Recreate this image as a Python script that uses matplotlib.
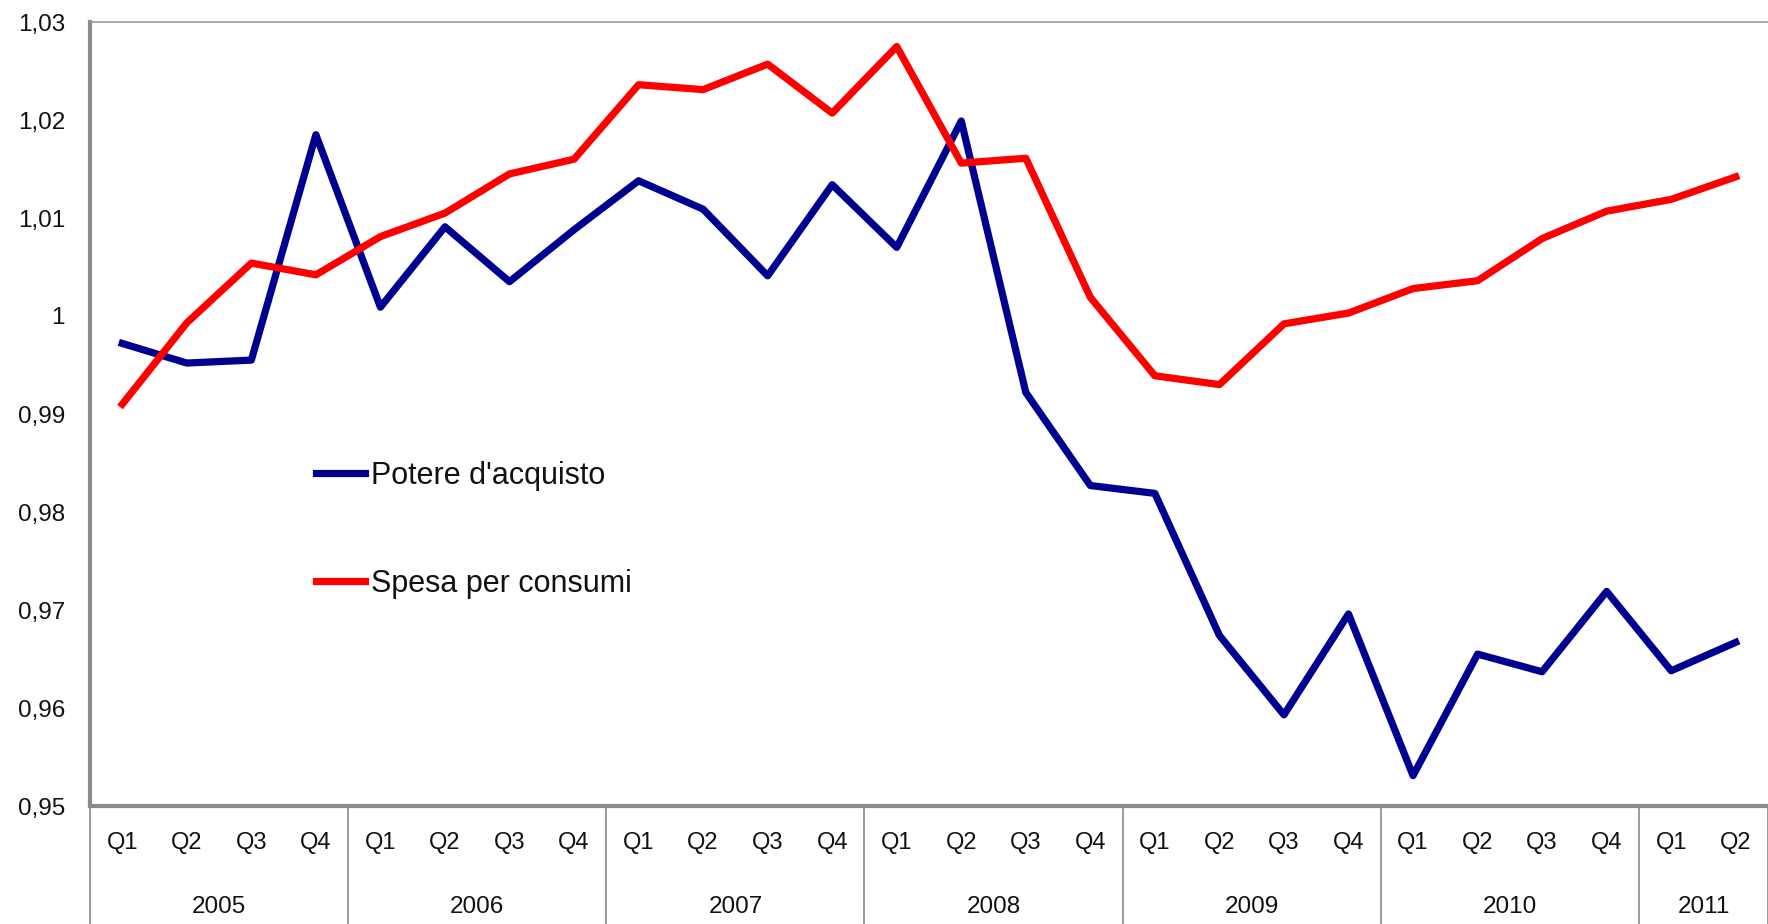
import matplotlib
matplotlib.use("Agg")
import matplotlib.pyplot as plt
import matplotlib.transforms as mtransforms

plt.rcParams['font.family'] = ['Liberation Sans', 'DejaVu Sans']

years = ["2005", "2006", "2007", "2008", "2009", "2010", "2011"]
quarters_per_year = [4, 4, 4, 4, 4, 4, 2]
quarter_labels = ["Q1", "Q2", "Q3", "Q4"] * 6 + ["Q1", "Q2"]

potere = [0.9972, 0.9952, 0.9955, 1.0185,
          1.0009, 1.0091, 1.0035, 1.0088,
          1.0138, 1.0109, 1.0041, 1.0134,
          1.0070, 1.0199, 0.9922, 0.9827,
          0.9819, 0.9674, 0.9593, 0.9696,
          0.9531, 0.9655, 0.9637, 0.9719,
          0.9638, 0.9667]
spesa = [0.9910, 0.9993, 1.0054, 1.0042,
         1.0081, 1.0105, 1.0145, 1.0160,
         1.0236, 1.0231, 1.0257, 1.0207,
         1.0275, 1.0156, 1.0161, 1.0019,
         0.9939, 0.9930, 0.9992, 1.0003,
         1.0028, 1.0036, 1.0079, 1.0107,
         1.0119, 1.0142]

yticks = [0.95, 0.96, 0.97, 0.98, 0.99, 1.00, 1.01, 1.02, 1.03]
ytick_labels = ["0,95", "0,96", "0,97", "0,98", "0,99", "1", "1,01", "1,02", "1,03"]

W, H = 1768, 924
fig = plt.figure(figsize=(W / 100, H / 100), dpi=100)
left, right, top, bottom = 90, 1768, 22, 806
ax = fig.add_axes([left / W, 1 - bottom / H, (right - left) / W, (bottom - top) / H])

x = list(range(len(potere)))
ax.plot(x, potere, color="#000090", lw=5.2, solid_joinstyle="round", label="Potere d'acquisto")
ax.plot(x, spesa, color="#ff0000", lw=5.2, solid_joinstyle="round", label="Spesa per consumi")

ax.set_xlim(-0.5, len(x) - 0.5)
ax.set_ylim(0.95, 1.03)
ax.set_yticks(yticks)
ax.set_yticklabels(ytick_labels, fontsize=17.5)
ax.set_xticks(x)
ax.set_xticklabels(quarter_labels, fontsize=17)
ax.tick_params(axis="y", length=0, pad=18, colors="#111111")
ax.tick_params(axis="x", length=0, pad=19, colors="#111111")

for s in ["left", "bottom"]:
    ax.spines[s].set_color("#8a8a8a")
    ax.spines[s].set_linewidth(3)
ax.spines["top"].set_color("#9a9a9a")
ax.spines["top"].set_linewidth(1.2)
ax.spines["right"].set_visible(False)

trans = mtransforms.blended_transform_factory(ax.transData, ax.transAxes)
axh = bottom - top
ybot = -(H - bottom) / axh
year_y = -(907 - bottom) / axh
pos = -0.5
bounds = [pos]
for yr, n in zip(years, quarters_per_year):
    ax.text(pos + n / 2, year_y, yr, transform=trans, ha="center", va="center",
            fontsize=17.5, color="#111111")
    pos += n
    bounds.append(pos)
for b in bounds:
    ax.plot([b, b], [0, ybot], transform=trans, color="#8a8a8a", lw=1.2, clip_on=False)

leg = ax.legend(loc="center left", bbox_to_anchor=((316 - left) / (right - left), (bottom - 530) / axh),
                frameon=False, fontsize=22, handlelength=1.6, handletextpad=0.2,
                labelspacing=2.55, borderpad=0, borderaxespad=0)
for t in leg.get_texts():
    t.set_color("#111111")

fig.savefig("out.png", dpi=100)
